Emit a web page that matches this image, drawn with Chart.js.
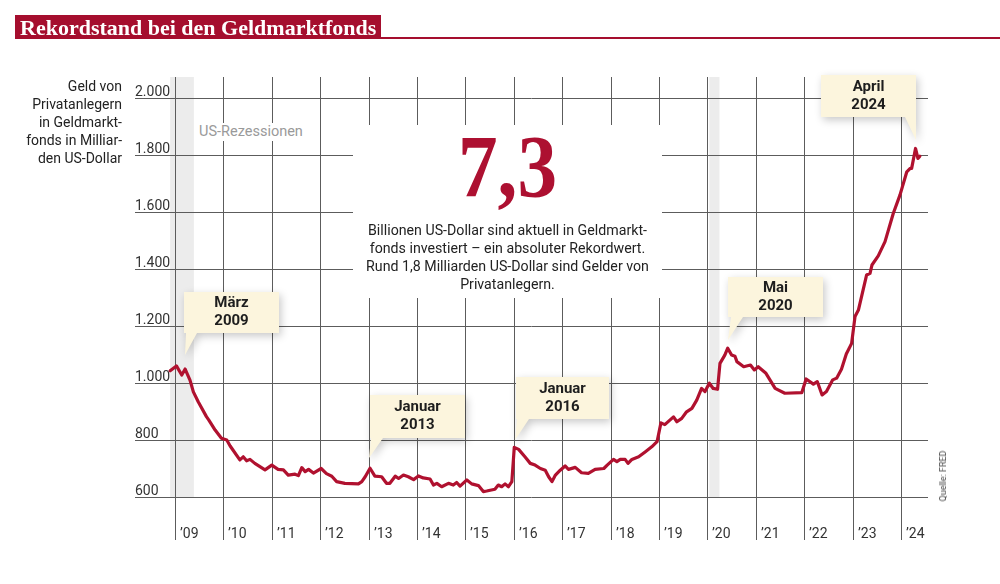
<!DOCTYPE html>
<html lang="de">
<head>
<meta charset="utf-8">
<script src="https://cdn.jsdelivr.net/npm/chart.js@4.4.1/dist/chart.umd.min.js"></script>
<style>
  html, body { margin: 0; padding: 0; background: #fff; }
  body { width: 1000px; height: 584px; position: relative; overflow: hidden; font-family: Roboto, "Noto Sans", sans-serif; color: #222; }
  #chart { position: absolute; left: 0; top: 0; }
  .title { position: absolute; left: 15px; top: 15px; height: 24px; padding: 0 5px; background: #a50e2e; color: #fff;
           font: bold 22px "Liberation Serif", serif; line-height: 25px; white-space: nowrap; }
  .titleLine { position: absolute; left: 15px; right: 0; top: 37px; height: 2px; background: #a50e2e; }
  .yTitle { position: absolute; right: 878px; top: 77px; text-align: right; font-size: 14px; line-height: 18px; color: #222; white-space: nowrap; }
  .rez { position: absolute; left: 197px; top: 123px; padding: 0 2px; font-size: 14.5px; line-height: 18px; color: #9a9a9a; background: #fff; }
  .box { position: absolute; left: 353px; top: 125px; width: 309px; height: 173px; background: #fff; text-align: center; }
  .big { position: absolute; left: 0; width: 309px; top: -2px; font: bold 88px "Liberation Serif", serif; line-height: 88px; color: #ad1031;
         transform: scaleX(0.9); }
  .para { position: absolute; left: 0; width: 309px; top: 96px; font-size: 14.2px; line-height: 18px; color: #222; }
  .src { position: absolute; left: 943px; top: 476px; transform: translate(-50%, -50%) rotate(-90deg); font-size: 9px; color: #444; white-space: nowrap; }
</style>
</head>
<body>
<canvas id="chart" width="1000" height="584"></canvas>
<div class="titleLine"></div>
<div class="title">Rekordstand bei den Geldmarktfonds</div>
<div class="yTitle">Geld von<br>Privatanlegern<br>in Geldmarkt-<br>fonds in Milliar-<br>den US-Dollar</div>
<div class="rez">US-Rezessionen</div>
<div class="box">
  <div class="big">7,3</div>
  <div class="para">Billionen US-Dollar sind aktuell in Geldmarkt-<br>fonds investiert – ein absoluter Rekordwert.<br>Rund 1,8 Milliarden US-Dollar sind Gelder von<br>Privatanlegern.</div>
</div>
<div class="src">Quelle: FRED</div>
<script>
// Zeitpunkte als Dezimaljahr
const dates = [
  2008.90, 2009.03, 2009.14, 2009.21, 2009.31, 2009.38, 2009.48, 2009.65, 2009.70, 2009.83, 2009.96,
  2010.07, 2010.14, 2010.34, 2010.41, 2010.48, 2010.55, 2010.65, 2010.86,
  2011.00, 2011.13, 2011.24, 2011.34, 2011.48, 2011.55, 2011.62, 2011.69, 2011.76, 2011.86,
  2012.02, 2012.13, 2012.24, 2012.34, 2012.51, 2012.79, 2012.86, 2012.93,
  2013.03, 2013.13, 2013.27, 2013.37, 2013.44, 2013.55, 2013.62, 2013.72, 2013.82, 2013.93,
  2014.03, 2014.13, 2014.27, 2014.34, 2014.41, 2014.51, 2014.65, 2014.75, 2014.82, 2014.89,
  2015.03, 2015.13, 2015.27, 2015.37, 2015.44, 2015.61, 2015.68, 2015.75, 2015.82, 2015.89, 2015.96,
  2016.01, 2016.10, 2016.23, 2016.34, 2016.44, 2016.55, 2016.65, 2016.72, 2016.79, 2016.86, 2016.96,
  2017.06, 2017.13, 2017.27, 2017.40, 2017.54, 2017.68, 2017.86, 2017.93,
  2018.06, 2018.13, 2018.20, 2018.30, 2018.36, 2018.44, 2018.58, 2018.72, 2018.85, 2018.96,
  2019.04, 2019.12, 2019.30, 2019.37, 2019.47, 2019.57, 2019.68, 2019.78, 2019.88, 2019.95,
  2020.04, 2020.12, 2020.21, 2020.26, 2020.36, 2020.42, 2020.50, 2020.57, 2020.61, 2020.75, 2020.89, 2020.97,
  2021.05, 2021.21, 2021.40, 2021.60, 2021.95,
  2022.04, 2022.19, 2022.27, 2022.37, 2022.46, 2022.59, 2022.67, 2022.77, 2022.87, 2022.98,
  2023.05, 2023.12, 2023.29, 2023.36, 2023.40, 2023.53, 2023.67, 2023.84, 2023.98,
  2024.12, 2024.19, 2024.22, 2024.30, 2024.35, 2024.39
];
// Geld von Privatanlegern, Mrd. US-Dollar
const assets = [
  1043, 1060, 1028, 1049, 1010, 969, 934, 882, 870, 835, 806,
  800, 779, 730, 741, 727, 732, 718, 695,
  712, 697, 695, 677, 680, 675, 703, 689, 697, 684,
  700, 682, 673, 654, 648, 646, 654, 671,
  701, 673, 671, 648, 648, 673, 665, 677, 671, 661,
  674, 667, 663, 642, 648, 636, 648, 642, 651, 638,
  660, 646, 640, 619, 621, 627, 642, 636, 646, 636, 654,
  774, 767, 741, 718, 712, 700, 694, 671, 654, 677, 694,
  709, 697, 704, 685, 683, 697, 700, 712,
  732, 724, 732, 732, 718, 732, 741, 759, 776, 794,
  860, 854, 881, 864, 876, 899, 911, 940, 981, 970,
  999, 981, 978, 1069, 1098, 1122, 1098, 1094, 1075, 1057, 1063, 1046,
  1057, 1034, 981, 964, 966,
  1014, 996, 1005, 958, 970, 1011, 1017, 1048, 1102, 1139,
  1233, 1256, 1379, 1385, 1414, 1446, 1496, 1595, 1660,
  1741, 1753, 1753, 1823, 1788, 1796
];
const yTicks = [600, 800, 1000, 1200, 1400, 1600, 1800, 2000];
const yTickLabels = ['600', '800', '1.000', '1.200', '1.400', '1.600', '1.800', '2.000'];
const years = [2009, 2010, 2011, 2012, 2013, 2014, 2015, 2016, 2017, 2018, 2019, 2020, 2021, 2022, 2023, 2024];
const yearLabels = ['’09', '’10', '’11', '’12', '’13', '’14', '’15', '’16', '’17', '’18', '’19', '’20', '’21', '’22', '’23', '’24'];
const recStart = [2008.90, 2020.04];
const recEnd = [2009.39, 2020.25];

// Hinweis-Kästchen: Box + Spitze
const callouts = [
  { lines: ['März', '2009'],   x: 184, y: 292, w: 95, h: 41, p: [[186, 333], [197, 333], [185, 355]] },
  { lines: ['Januar', '2013'], x: 370, y: 395, w: 95, h: 43, p: [[371, 438], [383, 438], [369, 458]] },
  { lines: ['Januar', '2016'], x: 516, y: 377, w: 93, h: 42, p: [[517, 419], [529, 419], [515, 440]] },
  { lines: ['Mai', '2020'],    x: 728, y: 277, w: 95, h: 40, p: [[731, 317], [743, 317], [728, 340]] },
  { lines: ['April', '2024'],  x: 821, y: 75,  w: 95, h: 42, p: [[905, 117], [916, 117], [916, 140]] }
];

const gridPlugin = {
  id: 'grid',
  beforeDatasetsDraw(chart) {
    const { ctx, chartArea: a, scales: { x, y } } = chart;
    ctx.save();
    ctx.fillStyle = '#ececec';
    recStart.forEach((s, i) => {
      const x0 = x.getPixelForValue(s), x1 = x.getPixelForValue(recEnd[i]);
      ctx.fillRect(x0, a.top, x1 - x0, a.bottom - a.top);
    });
    ctx.strokeStyle = '#5c5c5c';
    ctx.lineWidth = 1;
    ctx.beginPath();
    yTicks.forEach(v => {
      const py = Math.round(y.getPixelForValue(v)) + 0.5;
      ctx.moveTo(a.left, py); ctx.lineTo(a.right, py);
    });
    years.forEach(v => {
      const px = Math.round(x.getPixelForValue(v)) + 0.5;
      ctx.moveTo(px, a.top); ctx.lineTo(px, a.bottom + 43);
    });
    ctx.stroke();
    ctx.fillStyle = '#333';
    ctx.font = '14px Roboto';
    ctx.textAlign = 'left';
    ctx.textBaseline = 'alphabetic';
    yTicks.forEach((v, i) => {
      ctx.fillText(yTickLabels[i], a.left, Math.round(y.getPixelForValue(v)) - 2);
    });
    years.forEach((v, i) => {
      ctx.fillText(yearLabels[i], Math.round(x.getPixelForValue(v)) + 5, 538);
    });
    ctx.restore();
  },
  afterDatasetsDraw(chart) {
    const ctx = chart.ctx;
    callouts.forEach(c => {
      ctx.save();
      ctx.beginPath();
      ctx.rect(c.x, c.y, c.w, c.h);
      ctx.moveTo(c.p[0][0], c.p[0][1]);
      ctx.lineTo(c.p[2][0], c.p[2][1]);
      ctx.lineTo(c.p[1][0], c.p[1][1]);
      ctx.closePath();
      ctx.shadowColor = 'rgba(0,0,0,0.22)';
      ctx.shadowBlur = 8;
      ctx.shadowOffsetX = 2;
      ctx.shadowOffsetY = 3;
      ctx.fillStyle = '#fcf5dd';
      ctx.fill();
      ctx.restore();
      ctx.save();
      ctx.fillStyle = '#1e1e1e';
      ctx.font = 'bold 15px Roboto';
      ctx.textAlign = 'center';
      ctx.textBaseline = 'middle';
      const cx = c.x + c.w / 2, cy = c.y + c.h / 2;
      ctx.fillText(c.lines[0], cx, cy - 9);
      ctx.fillText(c.lines[1], cx, cy + 9);
      ctx.restore();
    });
  }
};

new Chart(document.getElementById('chart'), {
  type: 'line',
  data: {
    datasets: [{
      data: dates.map((d, i) => ({ x: d, y: assets[i] })),
      borderColor: '#b0112f',
      borderWidth: 3.2,
      pointRadius: 0,
      tension: 0,
      borderJoinStyle: 'round',
      borderCapStyle: 'round'
    }]
  },
  options: {
    responsive: false,
    animation: false,
    layout: { padding: { left: 135, right: 72, top: 77, bottom: 87 } },
    scales: {
      x: { type: 'linear', min: 2008.174, max: 2024.558, display: false },
      y: { min: 600, max: 2073.7, display: false }
    },
    plugins: { legend: { display: false }, tooltip: { enabled: false } }
  },
  plugins: [gridPlugin]
});
</script>
</body>
</html>
